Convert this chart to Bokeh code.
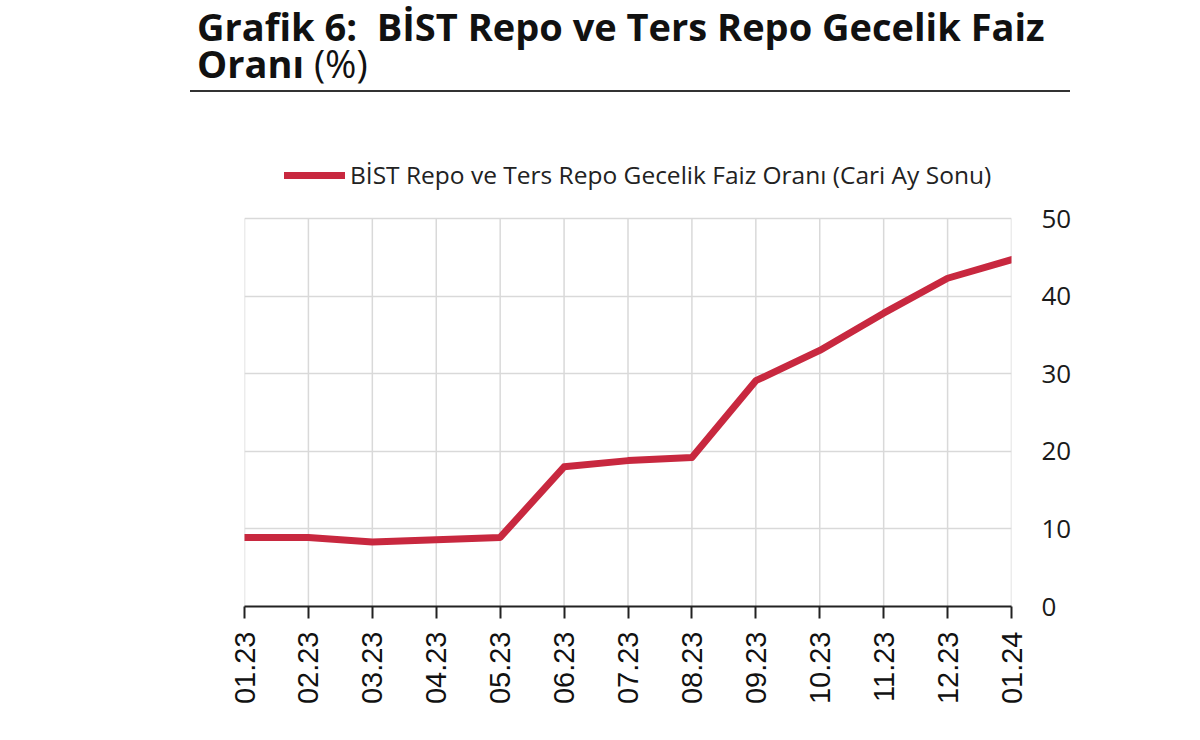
from bokeh.plotting import figure
from bokeh.layouts import column
from bokeh.models import (FixedTicker, Legend, LegendItem, Range1d, Div)
from bokeh.embed import file_html
from bokeh.resources import INLINE

# ---- data ----
months = ["01.23", "02.23", "03.23", "04.23", "05.23", "06.23", "07.23",
          "08.23", "09.23", "10.23", "11.23", "12.23", "01.24"]
rate = [8.9, 8.9, 8.3, 8.6, 8.9, 18.0, 18.8, 19.2, 29.1, 33.0, 37.8, 42.3, 44.7]
y_ticks = [0, 10, 20, 30, 40, 50]
title_line1 = "Grafik 6:&nbsp; BİST Repo ve Ters Repo Gecelik Faiz"
title_line2 = "Oranı"
title_unit = "(%)"
series_name = "BİST Repo ve Ters Repo Gecelik Faiz Oranı (Cari Ay Sonu)"

RED = "#C8283F"
x = list(range(len(months)))
y_min, y_max = y_ticks[0], y_ticks[-1]

title_html = (
    '<div style="box-sizing:border-box; margin-left:190px; width:880px; '
    'padding:8px 0 8px 7px; border-bottom:2px solid #333333; '
    'font-family:\'Open Sans\'; font-weight:bold; '
    'font-size:38px; line-height:37px; color:#111111; white-space:nowrap;">'
    f'{title_line1}<br>{title_line2} '
    f'<span style="font-weight:normal;">{title_unit}</span></div>'
)
div = Div(text=title_html, width=1184, height=100, margin=0)

# frame: chart area plus headroom for the legend
TOP, FRAME_H, BOTTOM = 55, 451, 118
CHART_H = 388  # pixel height of the 0..50 band
y_top = y_max * FRAME_H / CHART_H

p = figure(width=1184, height=TOP + FRAME_H + BOTTOM, output_backend="svg",
           toolbar_location=None,
           x_range=Range1d(0, len(months) - 1), y_range=Range1d(y_min, y_top),
           y_axis_location="right",
           min_border_left=244, min_border_right=173,
           min_border_top=TOP, min_border_bottom=BOTTOM)
p.outline_line_color = None
p.background_fill_color = "white"

# vertical grid lines limited to the 0..50 band
p.segment(x0=x, y0=[y_min] * len(x), x1=x, y1=[y_max] * len(x),
          line_color="#d9d9d9", line_width=1.5)

r = p.line(x, rate, line_color=RED, line_width=7, line_join="round",
           line_cap="round")

# axes
xa = p.xaxis[0]
xa.ticker = FixedTicker(ticks=x)
xa.major_label_overrides = {i: m for i, m in enumerate(months)}
xa.major_label_orientation = 3.14159265 / 2
xa.major_label_text_font = "Liberation Sans"
xa.major_label_text_font_size = "29px"
xa.major_label_text_color = "#111111"
xa.major_label_standoff = 13
xa.axis_line_color = "#222222"
xa.axis_line_width = 2
xa.major_tick_line_color = "#222222"
xa.major_tick_line_width = 2
xa.major_tick_out = 12
xa.major_tick_in = 0
xa.minor_tick_line_color = None

ya = p.yaxis[0]
ya.ticker = FixedTicker(ticks=y_ticks)
ya.major_label_text_font = "Open Sans"
ya.major_label_text_font_size = "26px"
ya.major_label_text_color = "#1a1a1a"
ya.major_label_standoff = 24
ya.axis_line_color = None
ya.major_tick_line_color = None
ya.minor_tick_line_color = None

p.xgrid.grid_line_color = None
p.ygrid.ticker = FixedTicker(ticks=y_ticks)
p.ygrid.grid_line_color = "#d9d9d9"
p.ygrid.grid_line_width = 1.5

# legend (inside the headroom above the 0..50 band)
legend = Legend(items=[LegendItem(label=series_name, renderers=[r])],
                location=(40, 415), orientation="horizontal",
                glyph_width=61, glyph_height=24, label_height=24,
                label_standoff=5, padding=0, margin=0, spacing=0,
                border_line_color=None, background_fill_alpha=0,
                label_text_font="Open Sans", label_text_font_size="24.5px",
                label_text_color="#222222")
p.add_layout(legend, "center")

open("out.html", "w").write(file_html(column(div, p, spacing=0), INLINE))
